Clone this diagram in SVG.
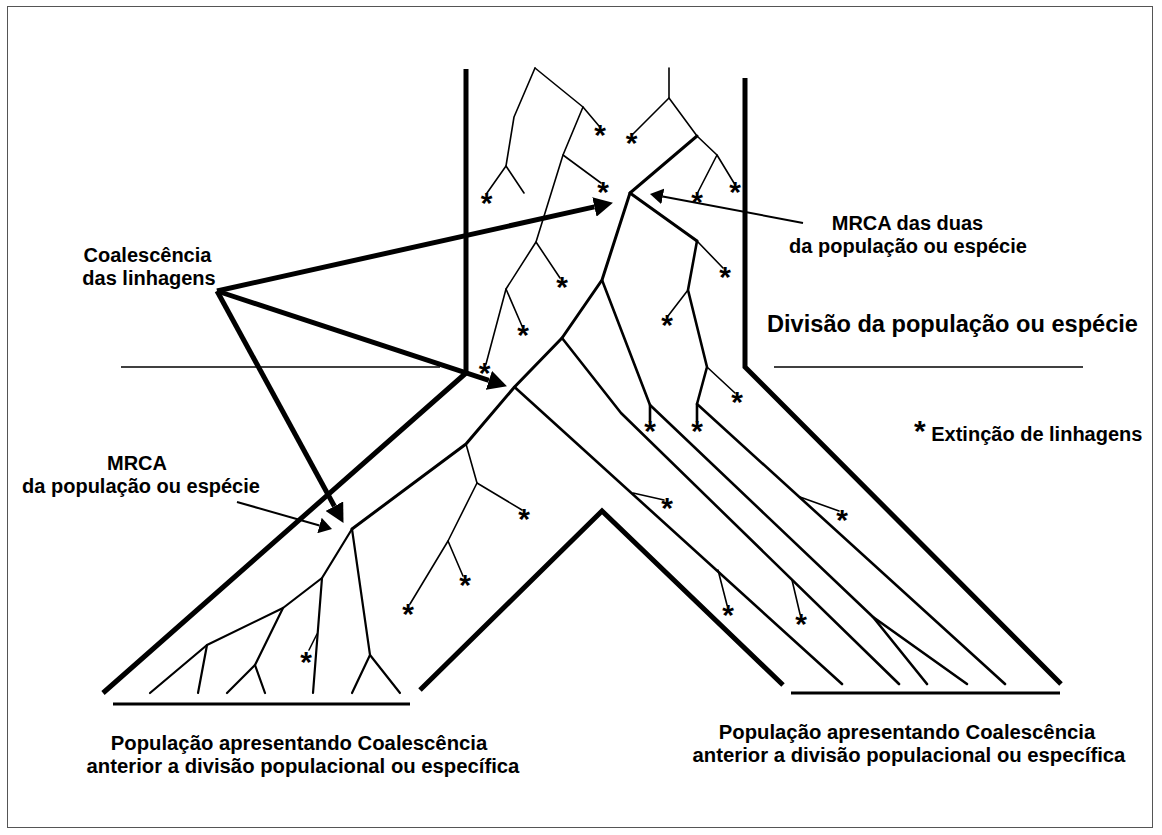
<svg xmlns="http://www.w3.org/2000/svg" width="1162" height="835" viewBox="0 0 1162 835">
<style>
 .w{fill:none;stroke:#000;stroke-width:5;stroke-linejoin:miter}
 .b{fill:none;stroke:#000;stroke-width:3}
 .l{fill:none;stroke:#000;stroke-width:2.6;stroke-linejoin:round;stroke-linecap:round}
 .m{fill:none;stroke:#000;stroke-width:2.2;stroke-linejoin:round;stroke-linecap:round}
 .t{fill:none;stroke:#000;stroke-width:1.6;stroke-linejoin:round;stroke-linecap:round}
 .h{fill:none;stroke:#000;stroke-width:1.5}
 .a{fill:none;stroke:#000;stroke-width:5}
 .a2{fill:none;stroke:#000;stroke-width:2}
 text{font-family:"Liberation Sans",Arial,sans-serif;font-weight:bold;fill:#000;font-size:20px}
 .lb{text-anchor:middle}
 .pop{text-anchor:middle;font-size:20.3px}
 .st{font-size:30px;text-anchor:middle}
</style>
<defs>
 <marker id="ah" markerUnits="userSpaceOnUse" viewBox="0 -10 19 20" refX="0" refY="0" markerWidth="19" markerHeight="20" orient="auto"><path d="M0,-10 L19,0 L0,10 z"/></marker>
 <marker id="ahs" markerUnits="userSpaceOnUse" viewBox="0 -8 13 16" refX="0" refY="0" markerWidth="13" markerHeight="16" orient="auto"><path d="M0,-8 L13,0 L0,8 z"/></marker>
</defs>
<rect x="7.5" y="6.5" width="1145" height="821" fill="#fff" stroke="#555" stroke-width="1"/>

<g id="walls">
 <path class="w" d="M466,69 V373 L103,693"/>
 <path class="w" d="M745,78 V367 L1061,684"/>
 <path class="w" d="M420,690 L602,511 L783,685"/>
 <path class="b" d="M113,704 H410"/>
 <path class="b" d="M791,693 H1060"/>
 <path class="h" d="M121,367 H440"/>
 <path class="h" d="M774,367 H1083"/>
</g>

<g id="tree-upper-left">
 <path class="t" d="M535,68 L514,117 L506,166 L487,193"/>
 <path class="t" d="M506,166 L524,193"/>
 <path class="t" d="M535,68 L583,107 L599,126"/>
 <path class="t" d="M583,107 L563,155 L601,183"/>
 <path class="t" d="M563,155 L536,242 L560,278"/>
 <path class="t" d="M536,242 L506,289 L522,326"/>
 <path class="t" d="M506,289 L486,364"/>
</g>

<g id="tree-upper-right">
 <path class="t" d="M669,68 V98 L633,134"/>
 <path class="t" d="M669,98 L697,136 L717,155 L698,192"/>
 <path class="t" d="M717,155 L734,183"/>
 <path class="l" style="stroke-width:3" d="M697,136 L630,193 L697,241"/>
 <path class="t" d="M697,241 L723,268"/>
 <path class="l" d="M697,241 L688,290 L707,367 L697,404 L1005,684"/>
 <path class="t" d="M688,290 L668,316"/>
 <path class="t" d="M707,367 L735,393"/>
 <path class="l" d="M697,404 V421"/>
 <path class="t" d="M800,497 L839,511"/>
</g>

<g id="tree-spine">
 <path class="l" style="stroke-width:3" d="M630,193 L602,280 L562,338 L514.5,387 L466,444 L352,529"/>
 <path class="l" d="M602,280 L650,405 L873,617 L927,684"/>
 <path class="l" d="M873,617 L967,684"/>
 <path class="l" d="M650,405 V421"/>
 <path class="l" d="M562,338 L621,413 L899,684"/>
 <path class="t" d="M792,580 L800,614"/>
 <path class="l" d="M514.5,387 L842,684"/>
 <path class="t" d="M633,493 L664,500"/>
 <path class="t" d="M718,570 L727,605"/>
</g>

<g id="tree-middle">
 <path class="t" d="M466,444 L477,483 L522,510"/>
 <path class="t" d="M477,483 L448,541 L463,576"/>
 <path class="t" d="M448,541 L410,604"/>
</g>

<g id="tree-lower-left">
 <path class="m" d="M352,529 L322,578 L283,608 L207,645 L150,693"/>
 <path class="m" d="M207,645 L198,693"/>
 <path class="m" d="M283,608 L255,665 L227,693"/>
 <path class="m" d="M255,665 L265,693"/>
 <path class="m" d="M322,578 L313,693"/>
 <path class="t" d="M317,634 L309,650"/>
 <path class="m" d="M352,529 L370,655 L352,693"/>
 <path class="m" d="M370,655 L400,693"/>
</g>

<g id="extinctions">
 <text class="st" x="600" y="145">*</text>
 <text class="st" x="603" y="202">*</text>
 <text class="st" x="486.5" y="213">*</text>
 <text class="st" x="562" y="297">*</text>
 <text class="st" x="523" y="345">*</text>
 <text class="st" x="484.5" y="383">*</text>
 <text class="st" x="631.5" y="153">*</text>
 <text class="st" x="697" y="212">*</text>
 <text class="st" x="735" y="202">*</text>
 <text class="st" x="725" y="287">*</text>
 <text class="st" x="667" y="335">*</text>
 <text class="st" x="737" y="412">*</text>
 <text class="st" x="697" y="440.5">*</text>
 <text class="st" x="650" y="440.5">*</text>
 <text class="st" x="667" y="518">*</text>
 <text class="st" x="842" y="530">*</text>
 <text class="st" x="728" y="625">*</text>
 <text class="st" x="801" y="634">*</text>
 <text class="st" x="524" y="529">*</text>
 <text class="st" x="465" y="595">*</text>
 <text class="st" x="408" y="624">*</text>
 <text class="st" x="306" y="672">*</text>
</g>

<g id="connectors">
 <path class="a" d="M217,291 L594.4,206.9" marker-end="url(#ah)"/>
 <path class="a" d="M217,291 L488.9,380.4" marker-end="url(#ah)"/>
 <path class="a" d="M217,291 L334.4,506.2" marker-end="url(#ah)"/>
 <path class="a2" d="M803,223 L662.8,196.4" marker-end="url(#ahs)"/>
 <path class="a2" d="M237,502 L319.5,525.5" marker-end="url(#ahs)"/>
</g>

<g id="label-coalescencia">
 <text class="lb" x="147.5" y="262">Coalescência</text>
 <text class="lb" x="149" y="285">das linhagens</text>
</g>
<g id="label-mrca-duas">
 <text class="lb" x="907.5" y="230">MRCA das duas</text>
 <text class="lb" x="908" y="253">da população ou espécie</text>
</g>
<g id="label-divisao">
 <text x="767" y="332" textLength="371" lengthAdjust="spacingAndGlyphs" style="font-size:23.5px">Divisão da população ou espécie</text>
</g>
<g id="label-extincao">
 <text x="914" y="441"><tspan style="font-size:30px">*</tspan> Extinção de linhagens</text>
</g>
<g id="label-mrca-left">
 <text class="lb" x="137" y="470">MRCA</text>
 <text class="lb" x="141" y="493">da população ou espécie</text>
</g>
<g id="label-pop-left">
 <text class="pop" x="299" y="750">População apresentando Coalescência</text>
 <text class="pop" x="303" y="773">anterior a divisão populacional ou específica</text>
</g>
<g id="label-pop-right">
 <text class="pop" x="907" y="739">População apresentando Coalescência</text>
 <text class="pop" x="909" y="762">anterior a divisão populacional ou específica</text>
</g>
</svg>
